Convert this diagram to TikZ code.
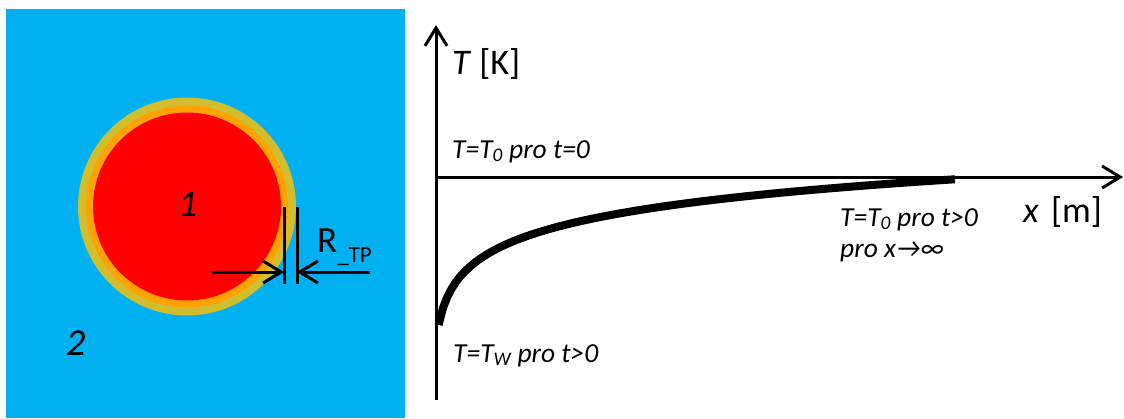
\documentclass[tikz,border=0pt]{standalone}
\usepackage{fontspec}
\setmainfont{Carlito}
\usetikzlibrary{arrows.meta}
\definecolor{seablue}{HTML}{00B0F0}
\definecolor{ringgold}{HTML}{D2BE2C}
\definecolor{ringorange}{HTML}{FFA200}

\begin{document}
\begin{tikzpicture}[x=1pt, y=-1pt,
    >={Straight Barb[length=18pt,width=22pt]},
    axis/.style={line width=3pt},
    dim/.style={line width=3pt},
    lbl/.style={anchor=base west, inner sep=0pt,
                font=\fontsize{27.5}{30}\selectfont\itshape},
    big/.style={anchor=base west, inner sep=0pt,
                font=\fontsize{36}{40}\selectfont}]
  \useasboundingbox (0,0) rectangle (1124,418);

  % cross-section: particle 1 in medium 2
  \fill[seablue] (6,9) rectangle (405,418);
  \coordinate (c) at (187,206.5);
  \fill[ringgold]   (c) circle (109pt);
  \fill[ringorange] (c) circle (101pt);
  \fill[red]        (c) circle (94pt);
  \node[big, font=\fontsize{38}{40}\selectfont\itshape] (one) at (178,216) {1};
  \node[big, font=\fontsize{38}{40}\selectfont\itshape] (two) at (66,355) {2};

  % layer thickness
  \coordinate (d1t) at (284,207);
  \coordinate (d1b) at (284,284);
  \coordinate (d2t) at (297,207);
  \coordinate (d2b) at (297,284);
  \coordinate (a1) at (212,272);
  \coordinate (a2) at (370,272);
  \draw[dim] (d1t) -- (d1b);
  \draw[dim] (d2t) -- (d2b);
  \draw[dim,->] (a1) -- (a1 -| d1t);
  \draw[dim,->] (a2) -- (a2 -| d2t);
  \node[big, font=\fontsize{37}{40}\selectfont] (rtp) at (317,252)
    {R\raisebox{-10pt}{\fontsize{23}{26}\selectfont\_TP}};

  % temperature profile
  \coordinate (o) at (436,177);
  \coordinate (ytop) at (436,25);
  \coordinate (ybot) at (436,400);
  \coordinate (xend) at (1123,177);
  \draw[axis,->] (ybot) -- (ytop);
  \draw[axis,->] (o) -- (xend);
  \draw[line width=8pt] plot[domain=3.6:520, samples=120]
    (\x+435, {177+33.3*ln(560/(\x+3))});

  \node[big] (ylab) at (452,74) {\textit{T} [K]};
  \node[big] (xlab) at (1023,222) {\textit{x}\hspace{4pt} [m]};
  \node[lbl] (tzero) at (452,158) {T=T\textsubscript{0} pro t=0};
  \node[lbl] (tinf) at (840,226) {T=T\textsubscript{0} pro t>0};
  \node[lbl] (xinf) at (840,257) {pro x→∞};
  \node[lbl] (twall) at (453,362) {T=T\textsubscript{W} pro t>0};
\end{tikzpicture}
\end{document}
